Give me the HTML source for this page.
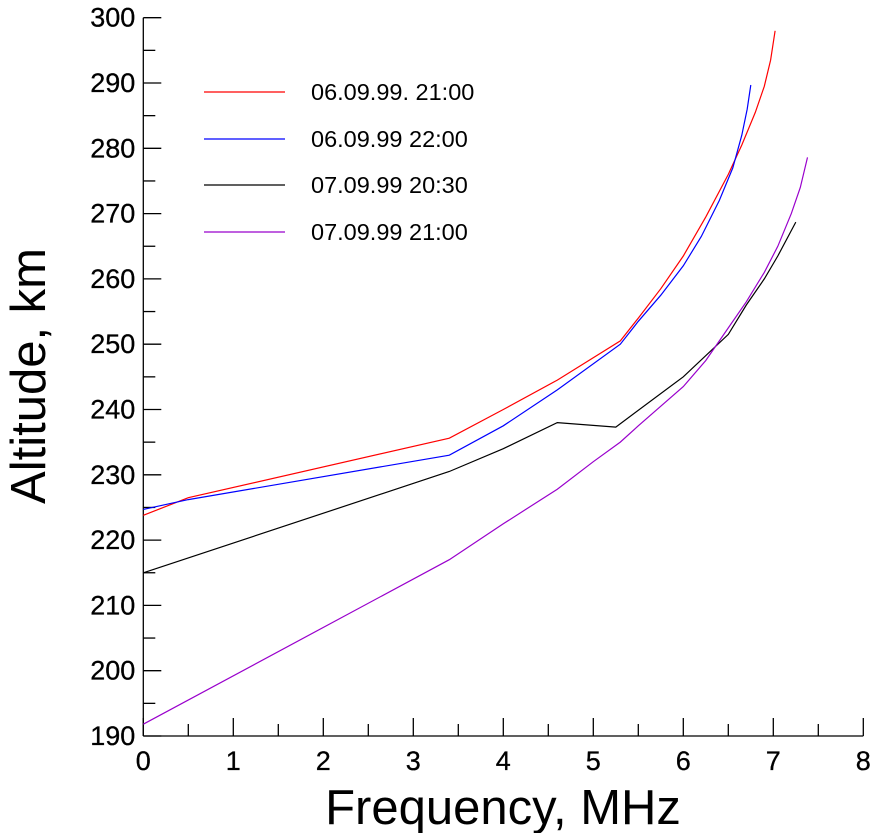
<!DOCTYPE html>
<html><head><meta charset="utf-8"><style>
html,body{margin:0;padding:0;background:#fff;}
svg{display:block;font-family:"Liberation Sans",Arial,sans-serif;}
</style></head><body>
<svg id="chart" width="871" height="833" xmlns="http://www.w3.org/2000/svg"></svg>
<script>
const seriesNames = ["06.09.99. 21:00","06.09.99 22:00","07.09.99 20:30","07.09.99 21:00"];
const seriesColors = ["#ff0000","#0000ff","#000000","#9900cc"];
const redFreq = [0,0.5,3.4,4,4.6,5.3,5.5,5.75,6,6.25,6.5,6.65,6.8,6.9,6.97,7.02];
const redAlt = [223.8,226.5,235.6,240,244.5,250.5,254,258.5,263.5,269.5,276,280.5,285.5,289.5,293.5,298];
const blueFreq = [0,0.5,3.4,4,4.6,5.3,5.5,5.75,6,6.2,6.4,6.55,6.65,6.71,6.75];
const blueAlt = [224.7,226.2,233,237.5,243,250,253.5,257.5,262,266.5,272,277,282,286,289.7];
const blackFreq = [0,3.4,4,4.6,5.25,6,6.5,6.7,6.9,7.05,7.25];
const blackAlt = [215,230.5,234,238,237.3,245,251.5,256,260,263.5,268.7];
const purpleFreq = [0,3.4,4,4.6,5,5.3,5.5,5.75,6,6.25,6.5,6.7,6.9,7.05,7.2,7.3,7.38];
const purpleAlt = [191.8,217,222.5,227.8,232,235,237.5,240.5,243.5,247.5,252.5,256.5,261,265,270,274,278.6];
const xTicks = [0,1,2,3,4,5,6,7,8];
const yTicks = [190,200,210,220,230,240,250,260,270,280,290,300];

const svg = document.getElementById('chart');
const NS = 'http://www.w3.org/2000/svg';
const X0 = 143.3, XS = 90, Y0 = 736, YS = 6.53;
function xs(f){ return X0 + f*XS; }
function ys(v){ return Y0 - (v-190)*YS; }
function mk(tag, attrs, parent){
  const e = document.createElementNS(NS, tag);
  for (const k in attrs) e.setAttribute(k, attrs[k]);
  (parent||svg).appendChild(e);
  return e;
}
const axes = mk('g', {stroke:'#000','stroke-width':1.3,fill:'none'});


mk('line', {x1:X0,y1:ys(300),x2:X0,y2:Y0}, axes);
mk('line', {x1:X0,y1:Y0,x2:xs(8),y2:Y0}, axes);
for (let v=190; v<=300; v+=5){
  const len = (v%10===0)?18:12;
  mk('line', {x1:X0,y1:ys(v),x2:X0+len,y2:ys(v)}, axes);
}
for (let f=0; f<=8; f+=0.5){
  const len = (Math.abs(f-Math.round(f))<1e-6)?18:12;
  mk('line', {x1:xs(f),y1:Y0,x2:xs(f),y2:Y0-len}, axes);
}
yTicks.forEach(v=>{
  const t = mk('text', {x:X0-8,y:ys(v)+9,'text-anchor':'end','font-size':27,fill:'#000',stroke:'#000','stroke-width':0.3});
  t.textContent = v;
  
  
});
xTicks.forEach(v=>{
  const t = mk('text', {x:xs(v),y:Y0+34,'text-anchor':'middle','font-size':27,fill:'#000',stroke:'#000','stroke-width':0.3});
  t.textContent = v;
  
  
});
const xt = mk('text', {x:503,y:824,'text-anchor':'middle','font-size':49,fill:'#000'});
xt.textContent = 'Frequency, MHz';


const yt = mk('text', {x:0,y:0,'text-anchor':'middle','font-size':49,fill:'#000',transform:'translate(45,376) rotate(-90)'});
yt.textContent = 'Altitude, km';



const data = [[redFreq,redAlt],[blueFreq,blueAlt],[blackFreq,blackAlt],[purpleFreq,purpleAlt]];
data.forEach((d,i)=>{
  const pts = d[0].map((f,j)=>xs(f).toFixed(1)+','+ys(d[1][j]).toFixed(1)).join(' ');
  const p = mk('polyline', {points:pts,fill:'none',stroke:seriesColors[i],'stroke-width':1.2});
  
  
});
const legendY = [92,139,185,232];
seriesNames.forEach((n,i)=>{
  const g = mk('g', {});
  
  
  mk('line', {x1:204,y1:legendY[i],x2:285,y2:legendY[i],stroke:seriesColors[i],'stroke-width':1.2}, g);
  const t = mk('text', {x:311,y:legendY[i]+8,'font-size':23.5,fill:'#000'}, g);
  t.textContent = n;
});
</script>
</body></html>
